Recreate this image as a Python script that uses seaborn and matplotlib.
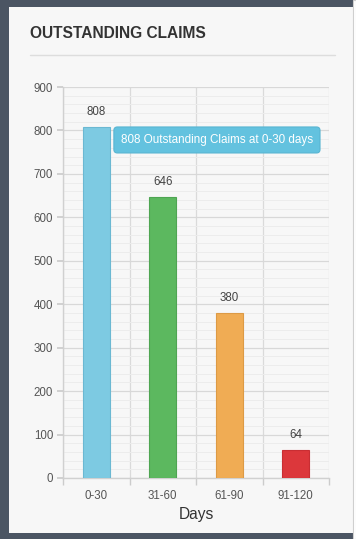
import matplotlib
matplotlib.use("Agg")
import matplotlib.pyplot as plt
import seaborn as sns
from matplotlib.patches import Rectangle
from matplotlib.lines import Line2D
from matplotlib.ticker import MultipleLocator

# Data
days = ['0-30', '31-60', '61-90', '91-120']
counts = [808, 646, 380, 64]
bar_colors = ['#7dcae2', '#5cb85f', '#f0ac54', '#dc373b']
edge_colors = ['#6bb8d2', '#4ea552', '#dd9a45', '#c92e33']

sns.set_theme(style="white")
plt.rcParams['font.family'] = ['Liberation Sans', 'DejaVu Sans']

W, H = 356, 539
fig = plt.figure(figsize=(W / 100, H / 100), dpi=100, facecolor='#4b5563')

# card panel
fig.patches.append(Rectangle((9 / W, 6 / H), (353 - 9) / W, (532 - 6) / H,
                             transform=fig.transFigure, facecolor='#f7f7f7',
                             edgecolor='none', zorder=-2))
fig.patches.append(Rectangle((353 / W, 0), 3 / W, 1, transform=fig.transFigure,
                             facecolor='#ffffff', edgecolor='#cfcfcf', lw=0.8, zorder=-2))

fig.text(30 / W, 1 - 33 / H, 'OUTSTANDING CLAIMS', fontsize=11.2, fontweight='bold',
         color='#333333', va='center', ha='left')
fig.lines.append(Line2D([30 / W, 335 / W], [1 - 55 / H, 1 - 55 / H], transform=fig.transFigure,
                        color='#dddddd', lw=1, zorder=-1))

ax = fig.add_axes([63 / W, (H - 478) / H, (329 - 63) / W, (478 - 87) / H])
ax.set_facecolor('#f7f7f7')

sns.barplot(x=days, y=counts, hue=days, palette=bar_colors, width=0.41,
            legend=False, ax=ax, zorder=3, saturation=1)
for p, ec in zip(ax.patches, edge_colors):
    p.set_edgecolor(ec)
    p.set_linewidth(0.8)

ax.set_xlim(-0.5, 3.5)
ax.set_ylim(0, 900)
ax.yaxis.set_major_locator(MultipleLocator(100))
ax.yaxis.set_minor_locator(MultipleLocator(20))
ax.set_xticks([i - 0.5 for i in range(len(days) + 1)], minor=True)
ax.grid(which='major', axis='y', color='#d8d8d8', lw=0.9, zorder=1)
ax.grid(which='minor', axis='y', color='#ececec', lw=0.7, zorder=0)
ax.grid(which='minor', axis='x', color='#dadada', lw=0.9, zorder=1)

for s in ['top', 'right']:
    ax.spines[s].set_visible(False)
for s in ['left', 'bottom']:
    ax.spines[s].set_color('#d0d0d0')
    ax.spines[s].set_linewidth(1)

ax.tick_params(axis='y', which='major', length=4, color='#cccccc', labelsize=8.3,
               labelcolor='#555555', pad=3, left=True)
ax.tick_params(axis='y', which='minor', length=0)
ax.tick_params(axis='x', which='major', length=0, labelsize=8.3, labelcolor='#555555', pad=8.5)
ax.tick_params(axis='x', which='minor', length=5, color='#cccccc', bottom=True)

ax.set_xlabel('Days', fontsize=11.2, color='#333333', labelpad=4)
ax.set_ylabel('')

for i, v in enumerate(counts):
    ax.annotate(str(v), (i, v), xytext=(0, 9), textcoords='offset pixels',
                ha='center', va='bottom', fontsize=8.3, color='#444444', zorder=5)

# tooltip
ax.annotate(f'{counts[0]} Outstanding Claims at {days[0]} days', (0.205, counts[0]),
            xytext=(11, -13), textcoords='offset pixels', ha='left', va='center',
            fontsize=8.4, color='white', zorder=6,
            bbox=dict(boxstyle='round,pad=0.6,rounding_size=0.3', facecolor='#63c2df',
                      edgecolor='#58b5d2', lw=0.8))

fig.savefig('out.png', dpi=100, facecolor=fig.get_facecolor())
